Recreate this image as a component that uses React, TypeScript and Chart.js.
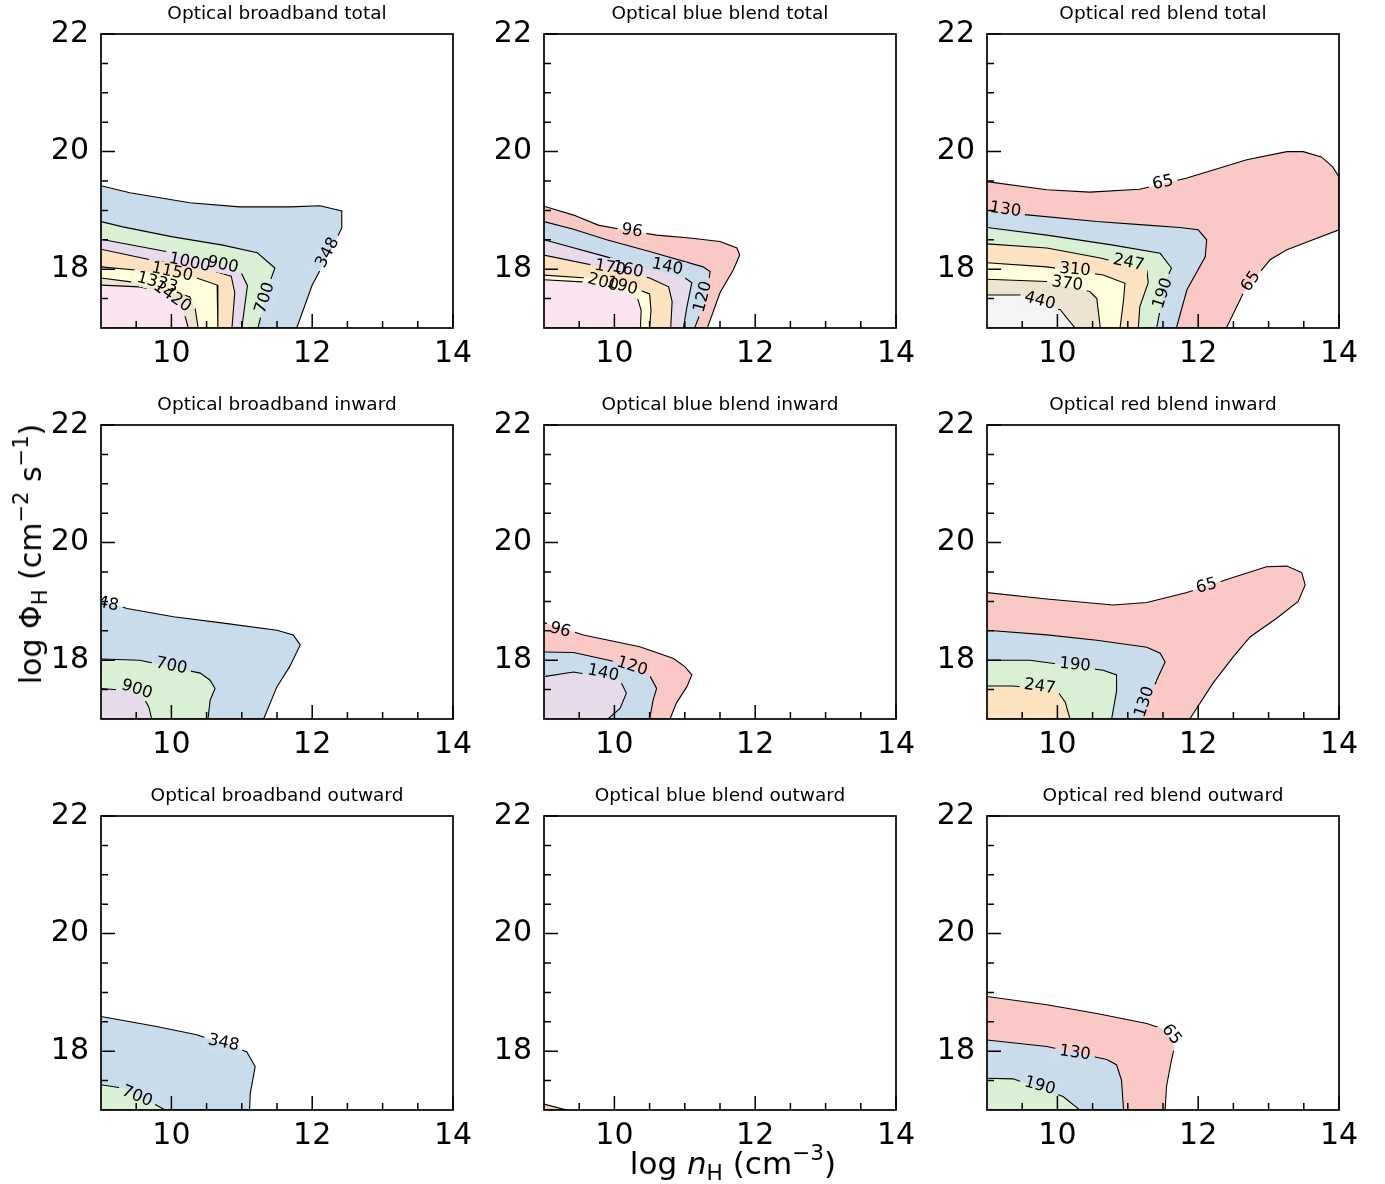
import React, { useEffect, useRef } from 'react';
import { Chart, registerables } from 'chart.js';

Chart.register(...registerables);

type Pt = [number, number];
type Lbl = [string, number, number, number];

// ---------- axes ----------
const X_MIN = 9;
const X_MAX = 14;
const Y_MIN = 17;
const Y_MAX = 22;
const xTickLabels = [10, 12, 14];
const yTickLabels = [18, 20, 22];
const xMinorTicks = [9.5, 10.5, 11, 11.5, 12.5, 13, 13.5];
const yMinorTicks = [17.5, 18.5, 19, 19.5, 20.5, 21, 21.5];

// ---------- colours (Pastel1, semi-transparent on white) ----------
const C_RED = '#fbc9c5';
const C_BLUE = '#c9dcec';
const C_GREEN = '#daf0d5';
const C_PURPLE = '#e6daeb';
const C_ORANGE = '#fee3c0';
const C_YELLOW = '#ffffdb';
const C_TAN = '#ece3d1';
const C_PINK = '#fde4f1';
const C_GRAY = '#f4f4f4';

// ---------- Optical broadband total ----------
const bbTotal348: Pt[] = [[9, 19.42], [9.41, 19.3], [10.26, 19.13], [10.97, 19.06], [11.69, 19.06], [12.11, 19.08], [12.42, 18.99], [12.42, 18.7], [12.25, 18.29], [12.0, 17.73], [11.78, 17], [9, 17]];
const bbTotal700: Pt[] = [[9, 18.81], [9.31, 18.72], [10.02, 18.55], [10.73, 18.41], [11.22, 18.28], [11.47, 18.02], [11.36, 17.65], [11.23, 17], [9, 17]];
const bbTotal900: Pt[] = [[9, 18.51], [10.02, 18.28], [10.69, 18.07], [11.0, 17.92], [11.08, 17.72], [11.0, 17], [9, 17]];
const bbTotal1000: Pt[] = [[9, 18.34], [9.7, 18.16], [10.6, 17.97], [10.85, 17.88], [10.9, 17.6], [10.86, 17], [9, 17]];
const bbTotal1150: Pt[] = [[9, 18.04], [9.45, 17.99], [10.36, 17.85], [10.65, 17.73], [10.66, 17.42], [10.66, 17], [9, 17]];
const bbTotal1333: Pt[] = [[9, 17.85], [9.45, 17.78], [10.26, 17.53], [10.34, 17.31], [10.38, 17], [9, 17]];
const bbTotal1420: Pt[] = [[9, 17.73], [9.55, 17.7], [9.94, 17.6], [10.17, 17.31], [10.24, 17], [9, 17]];
const bbTotalLabels: Lbl[] = [['348', 12.22, 18.28, -62], ['700', 11.33, 17.51, -72], ['900', 10.73, 18.07, 12], ['1000', 10.26, 18.11, 12], ['1150', 10.01, 17.95, 12], ['1333', 9.8, 17.77, 15], ['1420', 10.01, 17.53, 35]];

// ---------- Optical blue blend total ----------
const blTotal96: Pt[] = [[9, 19.07], [9.42, 18.92], [9.77, 18.75], [10.12, 18.67], [10.6, 18.58], [11.07, 18.53], [11.5, 18.47], [11.74, 18.36], [11.78, 18.24], [11.69, 17.99], [11.5, 17.6], [11.32, 17], [9, 17]];
const blTotal120: Pt[] = [[9, 18.81], [9.42, 18.68], [9.89, 18.5], [10.5, 18.3], [11.26, 18.04], [11.36, 17.96], [11.3, 17.5], [11.14, 17], [9, 17]];
const blTotal140: Pt[] = [[9, 18.5], [9.89, 18.21], [10.5, 17.99], [10.98, 17.87], [11.1, 17.77], [11.03, 17.36], [10.98, 17], [9, 17]];
const blTotal160: Pt[] = [[9, 18.24], [9.89, 18.02], [10.5, 17.85], [10.77, 17.7], [10.82, 17.45], [10.8, 17], [9, 17]];
const blTotal190: Pt[] = [[9, 17.9], [9.6, 17.85], [10.2, 17.72], [10.5, 17.58], [10.52, 17.3], [10.5, 17], [9, 17]];
const blTotal200: Pt[] = [[9, 17.82], [9.6, 17.78], [10.1, 17.65], [10.33, 17.5], [10.38, 17.3], [10.37, 17], [9, 17]];
const blTotalLabels: Lbl[] = [['96', 10.25, 18.65, 8], ['140', 10.75, 18.04, 12], ['120', 11.26, 17.53, -75], ['170', 9.94, 18.02, 10], ['160', 10.19, 17.99, 12], ['200', 9.84, 17.77, 15], ['190', 10.11, 17.71, 15]];

// ---------- Optical red blend total ----------
const rdTotal65: Pt[] = [[9, 19.49], [9.85, 19.35], [10.46, 19.31], [11.17, 19.36], [11.84, 19.55], [12.69, 19.86], [13.26, 20.0], [13.49, 20.0], [13.75, 19.91], [13.91, 19.74], [14, 19.57], [14, 18.67], [13.63, 18.5], [13.26, 18.33], [13.02, 18.16], [12.83, 17.88], [12.64, 17.59], [12.4, 17], [9, 17]];
const rdTotal130: Pt[] = [[9, 18.98], [9.61, 18.92], [10.56, 18.81], [11.27, 18.75], [11.74, 18.71], [12.0, 18.67], [12.12, 18.5], [12.1, 18.21], [11.84, 17.65], [11.69, 17], [9, 17]];
const rdTotal190: Pt[] = [[9, 18.71], [9.85, 18.58], [10.79, 18.41], [11.46, 18.27], [11.62, 18.02], [11.53, 17.77], [11.41, 17], [9, 17]];
const rdTotal247: Pt[] = [[9, 18.43], [9.85, 18.36], [10.61, 18.19], [11.27, 17.99], [11.29, 17.77], [11.17, 17.36], [11.15, 17], [9, 17]];
const rdTotal310: Pt[] = [[9, 18.11], [9.85, 18.04], [10.65, 17.9], [10.96, 17.76], [10.94, 17.48], [10.89, 17], [9, 17]];
const rdTotal370: Pt[] = [[9, 17.83], [9.85, 17.79], [10.46, 17.62], [10.56, 17.5], [10.61, 17], [9, 17]];
const rdTotal440: Pt[] = [[9, 17.56], [9.47, 17.56], [10.04, 17.31], [10.25, 17], [9, 17]];
const rdTotalLabels: Lbl[] = [['65', 11.5, 19.47, -12], ['130', 9.26, 19.01, 8], ['247', 11.01, 18.11, 12], ['310', 10.25, 17.99, 5], ['370', 10.14, 17.75, 8], ['440', 9.75, 17.46, 15], ['190', 11.5, 17.59, -72], ['65', 12.75, 17.79, -55]];

// ---------- Optical broadband inward ----------
const bbIn348: Pt[] = [[9, 19.02], [9.37, 18.88], [10.03, 18.74], [10.74, 18.63], [11.5, 18.51], [11.73, 18.43], [11.83, 18.26], [11.68, 17.89], [11.5, 17.55], [11.31, 17], [9, 17]];
const bbIn700: Pt[] = [[9, 18.02], [9.55, 18.0], [10.41, 17.78], [10.55, 17.66], [10.62, 17.52], [10.55, 17.32], [10.52, 17], [9, 17]];
const bbIn900: Pt[] = [[9, 17.52], [9.4, 17.48], [9.6, 17.38], [9.68, 17.2], [9.72, 17], [9, 17]];
const bbInLabels: Lbl[] = [['348', 9.03, 18.97, 12], ['700', 10.0, 17.9, 12], ['900', 9.51, 17.5, 18]];

// ---------- Optical blue blend inward ----------
const blIn96: Pt[] = [[9, 18.64], [9.56, 18.43], [10.36, 18.23], [10.84, 18.03], [11.0, 17.89], [11.1, 17.75], [11.03, 17.55], [10.88, 17.27], [10.79, 17], [9, 17]];
const blIn120: Pt[] = [[9, 18.14], [9.42, 18.13], [10.03, 17.97], [10.51, 17.72], [10.6, 17.52], [10.55, 17.32], [10.5, 17], [9, 17]];
const blIn140: Pt[] = [[9, 17.72], [9.42, 17.8], [10.08, 17.66], [10.17, 17.44], [10.08, 17.18], [9.91, 17], [9, 17]];
const blInLabels: Lbl[] = [['96', 9.23, 18.51, 15], ['120', 10.25, 17.89, 18], ['140', 9.84, 17.78, 12]];

// ---------- Optical red blend inward ----------
const rdIn65: Pt[] = [[9, 19.15], [9.85, 19.04], [10.79, 18.94], [11.27, 18.98], [11.84, 19.15], [12.45, 19.39], [12.97, 19.59], [13.26, 19.6], [13.47, 19.49], [13.52, 19.28], [13.42, 19.0], [13.11, 18.71], [12.74, 18.4], [12.5, 18.06], [12.21, 17.61], [11.88, 17], [9, 17]];
const rdIn130: Pt[] = [[9, 18.51], [9.85, 18.43], [10.56, 18.34], [11.27, 18.22], [11.46, 18.12], [11.53, 17.97], [11.41, 17.66], [11.2, 17], [9, 17]];
const rdIn190: Pt[] = [[9, 18.0], [9.61, 18.0], [10.65, 17.83], [10.84, 17.75], [10.84, 17.47], [10.77, 17], [9, 17]];
const rdIn247: Pt[] = [[9, 17.56], [9.37, 17.56], [9.99, 17.49], [10.11, 17.29], [10.18, 17], [9, 17]];
const rdInLabels: Lbl[] = [['65', 12.12, 19.26, -15], ['190', 10.25, 17.92, 5], ['247', 9.75, 17.55, 8], ['130', 11.24, 17.29, -72]];

// ---------- Optical broadband outward ----------
const bbOut348: Pt[] = [[9, 18.59], [9.79, 18.42], [10.36, 18.28], [11.07, 17.99], [11.19, 17.74], [11.12, 17.28], [11.11, 17], [9, 17]];
const bbOut700: Pt[] = [[9, 17.43], [9.32, 17.37], [9.79, 17.08], [9.91, 17], [9, 17]];
const bbOutLabels: Lbl[] = [['348', 10.74, 18.14, 12], ['700', 9.51, 17.23, 22]];

// ---------- Optical blue blend outward ----------
const blOut96: Pt[] = [[9, 17.1], [9.32, 17], [9, 17]];
const blOutLabels: Lbl[] = [];

// ---------- Optical red blend outward ----------
const rdOut65: Pt[] = [[9, 18.93], [9.85, 18.79], [10.56, 18.64], [11.27, 18.47], [11.5, 18.38], [11.63, 18.2], [11.66, 18.05], [11.62, 17.85], [11.55, 17.4], [11.53, 17], [9, 17]];
const rdOut130: Pt[] = [[9, 18.19], [9.85, 18.08], [10.7, 17.86], [10.84, 17.77], [10.91, 17.51], [10.94, 17], [9, 17]];
const rdOut190: Pt[] = [[9, 17.54], [9.37, 17.53], [10.08, 17.23], [10.32, 17], [9, 17]];
const rdOutLabels: Lbl[] = [['65', 11.62, 18.28, 52], ['130', 10.25, 17.97, 8], ['190', 9.75, 17.41, 15]];

type Region = { poly: Pt[]; color: string };
type PanelDef = { title: string; regions: Region[]; labels: Lbl[] };

const panels: PanelDef[] = [
  { title: 'Optical broadband total', labels: bbTotalLabels, regions: [
    { poly: bbTotal348, color: C_BLUE }, { poly: bbTotal700, color: C_GREEN }, { poly: bbTotal900, color: C_PURPLE },
    { poly: bbTotal1000, color: C_ORANGE }, { poly: bbTotal1150, color: C_YELLOW }, { poly: bbTotal1333, color: C_TAN },
    { poly: bbTotal1420, color: C_PINK }] },
  { title: 'Optical blue blend total', labels: blTotalLabels, regions: [
    { poly: blTotal96, color: C_RED }, { poly: blTotal120, color: C_BLUE }, { poly: blTotal140, color: C_PURPLE },
    { poly: blTotal160, color: C_ORANGE }, { poly: blTotal190, color: C_YELLOW }, { poly: blTotal200, color: C_PINK }] },
  { title: 'Optical red blend total', labels: rdTotalLabels, regions: [
    { poly: rdTotal65, color: C_RED }, { poly: rdTotal130, color: C_BLUE }, { poly: rdTotal190, color: C_GREEN },
    { poly: rdTotal247, color: C_ORANGE }, { poly: rdTotal310, color: C_YELLOW }, { poly: rdTotal370, color: C_TAN },
    { poly: rdTotal440, color: C_GRAY }] },
  { title: 'Optical broadband inward', labels: bbInLabels, regions: [
    { poly: bbIn348, color: C_BLUE }, { poly: bbIn700, color: C_GREEN }, { poly: bbIn900, color: C_PURPLE }] },
  { title: 'Optical blue blend inward', labels: blInLabels, regions: [
    { poly: blIn96, color: C_RED }, { poly: blIn120, color: C_BLUE }, { poly: blIn140, color: C_PURPLE }] },
  { title: 'Optical red blend inward', labels: rdInLabels, regions: [
    { poly: rdIn65, color: C_RED }, { poly: rdIn130, color: C_BLUE }, { poly: rdIn190, color: C_GREEN },
    { poly: rdIn247, color: C_ORANGE }] },
  { title: 'Optical broadband outward', labels: bbOutLabels, regions: [
    { poly: bbOut348, color: C_BLUE }, { poly: bbOut700, color: C_GREEN }] },
  { title: 'Optical blue blend outward', labels: blOutLabels, regions: [
    { poly: blOut96, color: C_RED }] },
  { title: 'Optical red blend outward', labels: rdOutLabels, regions: [
    { poly: rdOut65, color: C_RED }, { poly: rdOut130, color: C_BLUE }, { poly: rdOut190, color: C_GREEN }] },
];

const FONT = '"DejaVu Sans", "Liberation Sans", sans-serif';
const CANVAS_W = 460;
const CANVAS_H = 378;

function makeConfig(panel: PanelDef): any {
  const overlay = {
    id: 'contourOverlay',
    afterDatasetsDraw(chart: any) {
      const { ctx, chartArea: a } = chart;
      const xs = chart.scales.x;
      const ys = chart.scales.y;
      const w = a.right - a.left;
      const h = a.bottom - a.top;
      ctx.save();
      ctx.beginPath();
      ctx.rect(a.left, a.top, w, h);
      ctx.clip();
      ctx.font = `16.5px ${FONT}`;
      // 1) open gaps in the contour lines under every label
      for (const [text, lx, ly, rot] of panel.labels) {
        const px = xs.getPixelForValue(lx);
        const py = ys.getPixelForValue(ly);
        const tw = ctx.measureText(text).width;
        const ang = (rot * Math.PI) / 180;
        ctx.save();
        ctx.translate(px, py);
        ctx.rotate(ang);
        ctx.beginPath();
        ctx.rect(-tw / 2 - 4, -8, tw + 8, 16);
        ctx.clip();
        ctx.rotate(-ang);
        ctx.translate(-px, -py);
        ctx.fillStyle = '#ffffff';
        ctx.fillRect(a.left, a.top, w, h);
        for (const r of panel.regions) {
          ctx.beginPath();
          r.poly.forEach(([x, y], i) => {
            const X = xs.getPixelForValue(x);
            const Y = ys.getPixelForValue(y);
            if (i === 0) ctx.moveTo(X, Y); else ctx.lineTo(X, Y);
          });
          ctx.closePath();
          ctx.fillStyle = r.color;
          ctx.fill();
        }
        ctx.restore();
      }
      // 2) draw the label texts
      for (const [text, lx, ly, rot] of panel.labels) {
        const px = xs.getPixelForValue(lx);
        const py = ys.getPixelForValue(ly);
        ctx.save();
        ctx.translate(px, py);
        ctx.rotate((rot * Math.PI) / 180);
        ctx.fillStyle = '#000';
        ctx.textAlign = 'center';
        ctx.textBaseline = 'middle';
        ctx.fillText(text, 0, 0);
        ctx.restore();
      }
      ctx.restore();

      // inward ticks
      ctx.save();
      ctx.strokeStyle = '#000';
      ctx.lineWidth = 1.5;
      ctx.beginPath();
      const tickX = (v: number, len: number) => {
        const X = xs.getPixelForValue(v);
        ctx.moveTo(X, a.bottom);
        ctx.lineTo(X, a.bottom - len);
      };
      const tickY = (v: number, len: number) => {
        const Y = ys.getPixelForValue(v);
        ctx.moveTo(a.left, Y);
        ctx.lineTo(a.left + len, Y);
      };
      xTickLabels.forEach((v) => tickX(v, 14));
      xMinorTicks.forEach((v) => tickX(v, 7));
      yTickLabels.forEach((v) => tickY(v, 14));
      yMinorTicks.forEach((v) => tickY(v, 7));
      ctx.stroke();
      // frame
      ctx.lineWidth = 1.7;
      ctx.strokeRect(a.left, a.top, w, h);
      // title
      ctx.fillStyle = '#000';
      ctx.font = `18.5px ${FONT}`;
      ctx.textAlign = 'center';
      ctx.textBaseline = 'alphabetic';
      ctx.fillText(panel.title, (a.left + a.right) / 2, a.top - 15);
      ctx.restore();
    },
  };

  const datasets = panel.regions
    .map((r) => ({
      data: r.poly.map(([x, y]) => ({ x, y })),
      backgroundColor: r.color,
      borderColor: '#000000',
      borderWidth: 1.1,
      fill: 'shape',
      pointRadius: 0,
      pointHoverRadius: 0,
      tension: 0,
    }))
    .reverse();

  const tickFont = { family: FONT, size: 30 };
  return {
    type: 'line',
    data: { datasets },
    options: {
      responsive: false,
      animation: false,
      events: [],
      layout: { padding: { top: 34, right: CANVAS_W - 70 - 352, left: 0, bottom: 0 } },
      plugins: { legend: { display: false }, tooltip: { enabled: false }, title: { display: false } },
      scales: {
        x: {
          type: 'linear',
          min: X_MIN,
          max: X_MAX,
          afterBuildTicks: (s: any) => { s.ticks = xTickLabels.map((v) => ({ value: v })); },
          afterFit: (s: any) => { s.height = 50; },
          grid: { display: false, drawTicks: false },
          border: { display: false },
          ticks: { font: tickFont, color: '#000', padding: 8, maxRotation: 0, autoSkip: false },
        },
        y: {
          type: 'linear',
          min: Y_MIN,
          max: Y_MAX,
          afterBuildTicks: (s: any) => { s.ticks = yTickLabels.map((v) => ({ value: v })); },
          afterFit: (s: any) => { s.width = 70; },
          grid: { display: false, drawTicks: false },
          border: { display: false },
          ticks: { font: tickFont, color: '#000', padding: 12, autoSkip: false },
        },
      },
    },
    plugins: [overlay],
  };
}

function Panel({ panel, left, top }: { panel: PanelDef; left: number; top: number }) {
  const ref = useRef<HTMLCanvasElement>(null);
  useEffect(() => {
    const chart = new Chart(ref.current as HTMLCanvasElement, makeConfig(panel));
    return () => chart.destroy();
  }, [panel]);
  return (
    <canvas
      ref={ref}
      width={CANVAS_W}
      height={CANVAS_H}
      style={{ position: 'absolute', left, top, width: CANVAS_W, height: CANVAS_H }}
    />
  );
}

const PLOT_LEFTS = [101, 544, 987];
const PLOT_TOPS = [34, 425, 816];

export default function App() {
  const sub: React.CSSProperties = { fontSize: '70%', verticalAlign: '-0.28em', lineHeight: 0 };
  const sup: React.CSSProperties = { fontSize: '70%', verticalAlign: '0.6em', lineHeight: 0 };
  return (
    <div style={{ position: 'absolute', left: 0, top: 0, width: 1385, height: 1184, overflow: 'hidden', background: '#fff', fontFamily: FONT, color: '#000' }}>
      {panels.map((p, i) => (
        <Panel key={i} panel={p} left={PLOT_LEFTS[i % 3] - 70} top={PLOT_TOPS[Math.floor(i / 3)] - 34} />
      ))}
      <div style={{ position: 'absolute', left: 733, top: 1163, transform: 'translate(-50%, -50%)', fontSize: 31, whiteSpace: 'nowrap', lineHeight: 1 }}>
        log <i>n</i><span style={sub}>H</span> (cm<span style={sup}>−3</span>)
      </div>
      <div style={{ position: 'absolute', left: 31, top: 554, transform: 'translate(-50%, -50%) rotate(-90deg)', fontSize: 30, whiteSpace: 'nowrap', lineHeight: 1 }}>
        log Φ<span style={sub}>H</span> (cm<span style={sup}>−2</span> s<span style={sup}>−1</span>)
      </div>
    </div>
  );
}
